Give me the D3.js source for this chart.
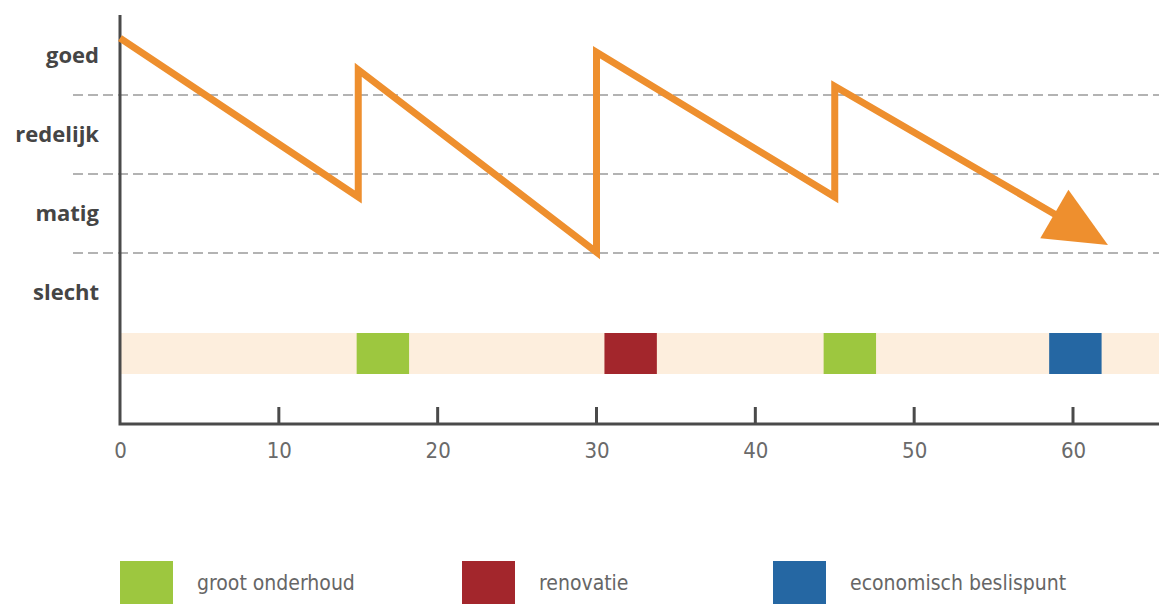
<!DOCTYPE html>
<html>
<head>
<meta charset="utf-8">
<script src="https://cdn.jsdelivr.net/npm/d3@7"></script>
<style>
  body { margin: 0; background: #fff; }
  svg { display: block; }
</style>
</head>
<body>
<div class="chart"></div>
<script>
// levensduur data
var years = [0, 15, 15, 30, 30, 45, 45, 62.2];
var condition = [3.72, 1.71, 3.32, 1.01, 3.54, 1.71, 3.11, 1.10];

var levels = ["slecht", "matig", "redelijk", "goed"];
var xTicks = [0, 10, 20, 30, 40, 50, 60];

// interventions on the timeline strip
var eventStart = [14.9, 30.5, 44.3, 58.5];
var eventType = ["groot onderhoud", "renovatie", "groot onderhoud", "economisch beslispunt"];
var eventWidth = 3.3;

var legendLabels = ["groot onderhoud", "renovatie", "economisch beslispunt"];
var legendColors = ["#9dc73f", "#a3262c", "#2567a3"];

var svgWidth = 1159;
var svgHeight = 604;

var svg = d3.select(".chart")
  .append("svg")
  .attr("width", svgWidth)
  .attr("height", svgHeight);

// scales
var xScale = d3.scaleLinear().domain([0, 60]).range([120, 1073]);
var yScale = d3.scaleLinear().domain([0, 4]).range([332, 16]);
var colorScale = d3.scaleOrdinal().domain(legendLabels).range(legendColors);

var xEnd = xScale.invert(svgWidth);

// dashed class boundaries
svg.append("g")
  .selectAll("line")
  .data([1, 2, 3])
  .enter()
  .append("line")
  .attr("x1", 73)
  .attr("x2", svgWidth)
  .attr("y1", d => yScale(d))
  .attr("y2", d => yScale(d))
  .attr("stroke", "#b3b3b3")
  .attr("stroke-width", 2)
  .attr("stroke-dasharray", "10,5");

// level labels
svg.append("g")
  .selectAll("text")
  .data(levels)
  .enter()
  .append("text")
  .attr("x", 99)
  .attr("y", (d, i) => yScale(i + 0.5))
  .attr("dy", "0.35em")
  .attr("text-anchor", "end")
  .attr("font-family", "'Open Sans', 'DejaVu Sans', sans-serif")
  .attr("font-weight", "bold")
  .attr("font-size", "22px")
  .style("fill", "#454545")
  .text(d => d);

// timeline strip
var stripTop = 333, stripBottom = 374;
svg.append("rect")
  .attr("x", xScale(0))
  .attr("y", stripTop)
  .attr("width", xScale(xEnd) - xScale(0))
  .attr("height", stripBottom - stripTop)
  .attr("fill", "#fdeedd");

svg.append("g")
  .selectAll("rect")
  .data(eventStart)
  .enter()
  .append("rect")
  .attr("x", d => xScale(d))
  .attr("y", stripTop)
  .attr("width", xScale(eventWidth) - xScale(0))
  .attr("height", stripBottom - stripTop)
  .attr("fill", (d, i) => colorScale(eventType[i]));

// axes
var axisY = 424;
var bottomAxis = d3.axisBottom(xScale)
  .tickValues(xTicks)
  .tickSizeInner(0)
  .tickSizeOuter(0)
  .tickPadding(17);

var xAxisG = svg.append("g")
  .attr("transform", `translate(0, ${axisY})`)
  .call(bottomAxis);
xAxisG.select(".domain").remove();
xAxisG.attr("font-size", null).attr("font-family", null);
xAxisG.selectAll("text")
  .attr("dy", "0.35em")
  .attr("y", 26)
  .style("font-family", "'DejaVu Sans Condensed', 'Liberation Sans Narrow', sans-serif")
  .style("font-size", "22px")
  .style("fill", "#6a6a6a");

// tick marks pointing up
svg.append("g")
  .selectAll("line")
  .data(xTicks.filter(d => d > 0))
  .enter()
  .append("line")
  .attr("x1", d => xScale(d))
  .attr("x2", d => xScale(d))
  .attr("y1", axisY)
  .attr("y2", axisY - 17)
  .attr("stroke", "#4a4a4a")
  .attr("stroke-width", 3);

svg.append("path")
  .attr("fill", "none")
  .attr("stroke", "#4a4a4a")
  .attr("stroke-width", 3)
  .attr("d", `M${xScale(0)},15 L${xScale(0)},${axisY} L${svgWidth},${axisY}`);

// condition line with arrow
var pts = years.map((d, i) => [xScale(d), yScale(condition[i])]);
var tip = pts[pts.length - 1];
var prev = pts[pts.length - 2];
var dx = tip[0] - prev[0], dy = tip[1] - prev[1];
var len = Math.sqrt(dx * dx + dy * dy);
var ux = dx / len, uy = dy / len;
var headLen = 62, headHalf = 28;
var base = [tip[0] - ux * headLen, tip[1] - uy * headLen];
var linePts = pts.slice(0, -1).concat([[tip[0] - ux * (headLen - 6), tip[1] - uy * (headLen - 6)]]);

var lineGenerator = d3.line();
svg.append("path")
  .attr("fill", "none")
  .attr("stroke", "#ee8f2e")
  .attr("stroke-width", 7)
  .attr("stroke-linejoin", "miter")
  .attr("stroke-miterlimit", 10)
  .attr("d", lineGenerator(linePts));

svg.append("path")
  .attr("fill", "#ee8f2e")
  .attr("d", lineGenerator([
    tip,
    [base[0] - uy * headHalf, base[1] + ux * headHalf],
    [base[0] + uy * headHalf, base[1] - ux * headHalf]
  ]) + "Z");

// legend
var legendX = [120, 462, 773];
var legend = svg.append("g")
  .selectAll("g")
  .data(legendLabels)
  .enter()
  .append("g")
  .attr("transform", (d, i) => `translate(${legendX[i]}, 561)`);

legend.append("rect")
  .attr("width", 53)
  .attr("height", 50)
  .attr("fill", d => colorScale(d));

legend.append("text")
  .attr("x", 77)
  .attr("y", 22)
  .attr("dy", "0.35em")
  .attr("font-family", "'DejaVu Sans Condensed', 'Liberation Sans Narrow', sans-serif")
  .attr("font-weight", 300)
  .attr("font-size", "21px")
  .style("fill", "#666")
  .text(d => d);
</script>
</body>
</html>
